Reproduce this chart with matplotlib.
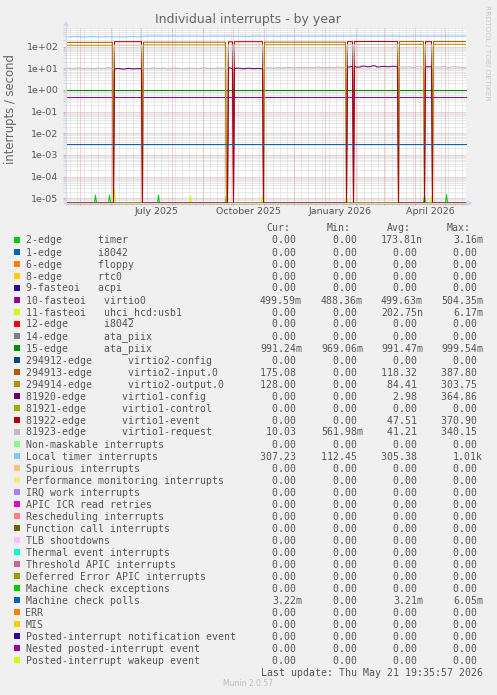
import numpy as np
import matplotlib
matplotlib.use("Agg")
import matplotlib.pyplot as plt
import matplotlib.dates as mdates
from matplotlib.lines import Line2D
from matplotlib.patches import Polygon, Rectangle
from matplotlib.ticker import FuncFormatter, LogLocator, NullFormatter

W, H = 497, 695
# plot box in pixels, measured from the top-left corner of the image
PL, PR, PT, PB = 66, 466, 28, 203

AXIS = "#CFD6F8"
FONT = "#555555"
MGRID = "#E8A4A4"
GRID = "#D4D4D4"

# time range of the "by year" graph (400 days, one day per pixel)
end_time = np.datetime64("2026-05-21T19:35:57")
n_days = 400
start_time = end_time - np.timedelta64(n_days, "D")

# log scale range
y_lo, y_hi = 10 ** -5.217, 10 ** 2.862

# virtio devices swap between two states over the year:
# A = virtio1 up, B = virtio2 up, Z = everything dropped to 0
seg_start = [0, 47, 48, 76, 77, 160, 162, 167, 168, 197, 198, 280, 281, 287, 288, 332, 333, 358, 359, 366, 367]
seg_mode = "BZAZBZAZAZBZAZAZBZAZB"

event_a = [170, 168, 170, 170, 172, 170]       # 81922 virtio1-event, per A segment
request_a = [118, 120, 122, 124, 126, 122]     # 81923 virtio1-request, per A segment
input_b = [158, 160, 162, 172, 172]            # 294913 virtio2-input.0, per B segment
output_b = [116, 121, 123, 128, 128]           # 294914 virtio2-output.0, per B segment

# 5-day samples
local_timer = [282, 290, 285, 278, 288, 292, 280, 286, 290, 284, 288, 280, 292, 287, 283,
               305, 310, 308, 312, 306, 309, 315, 304, 310, 307, 312, 308, 300, 306, 311,
               309, 305, 312, 307, 310, 304, 296, 308, 312, 306, 310, 308, 305, 311, 309,
               306, 312, 307, 310, 305, 309, 313, 306, 308, 311, 307, 304, 310, 312, 308,
               306, 311, 309, 305, 310, 312, 307, 309, 306, 311, 308, 310, 305, 309, 312,
               307, 310, 308, 306, 309]
request_b = [10.2, 9.6, 10.4, 9.8, 10.1, 9.5, 10.3, 9.9, 10.6, 9.7, 10.2, 9.8, 10.4, 9.6, 10.0,
             10.3, 9.8, 10.5, 9.9, 10.2, 9.6, 10.4, 10.0, 9.7, 10.3, 10.1, 9.8, 10.6, 10.0, 9.9,
             10.4, 10.2, 9.8, 10.5, 10.1, 9.9, 10.3, 10.7, 10.2, 10.0, 10.6, 10.3, 10.8, 10.4, 10.9,
             10.5, 11.0, 10.6, 11.2, 10.8, 11.3, 10.9, 11.1, 10.7, 11.4, 11.0, 11.6, 11.2, 11.5, 11.1,
             11.8, 11.3, 12.0, 11.5, 11.7, 11.2, 11.9, 11.4, 11.6, 11.1, 11.8, 11.3, 12.1, 11.6, 11.4,
             11.9, 11.2, 11.7, 11.5, 11.0]
config_a = [10.0, 10.0, 10.0, 10.0, 10.0, 10.0, 10.0, 10.0, 10.0, 9.4,
            9.8, 9.3, 9.9, 9.5, 9.7, 9.4, 10.0, 10.0, 10.0, 10.0,
            10.0, 10.0, 10.0, 10.0, 10.0, 10.0, 10.0, 10.0, 10.0, 10.0,
            10.0, 10.0, 10.4, 9.8, 10.2, 9.6, 10.1, 9.7, 9.9, 9.5,
            10.0, 10.0, 10.0, 10.0, 10.0, 10.0, 10.0, 10.0, 10.0, 10.0,
            10.0, 10.0, 10.0, 10.0, 10.0, 10.0, 11.6, 12.2, 11.4, 12.6,
            11.8, 12.9, 11.7, 12.3, 11.9, 12.4, 11.6, 12.0, 12.0, 12.0,
            12.0, 12.3, 11.8, 12.1, 12.0, 12.0, 12.0, 12.0, 12.0, 12.0]

# short spikes near the bottom
timer_spike_day = [29, 43, 92, 160, 358, 380]
timer_spike_val = [1.4e-5, 1.4e-5, 1.4e-5, 1.4e-5, 1.4e-5, 1.5e-5]
usb_spike_day = [48, 124, 196, 280, 365]
usb_spike_val = [2.4e-5, 1.3e-5, 1.2e-5, 1.2e-5, 1.2e-5]

ata_piix_rate = 0.991
virtio0_rate = 0.4996
mc_poll_rate = 0.00322

names = [
    "2-edge      timer",
    "1-edge      i8042",
    "6-edge      floppy",
    "8-edge      rtc0",
    "9-fasteoi   acpi",
    "10-fasteoi   virtio0",
    "11-fasteoi   uhci_hcd:usb1",
    "12-edge      i8042",
    "14-edge      ata_piix",
    "15-edge      ata_piix",
    "294912-edge      virtio2-config",
    "294913-edge      virtio2-input.0",
    "294914-edge      virtio2-output.0",
    "81920-edge      virtio1-config",
    "81921-edge      virtio1-control",
    "81922-edge      virtio1-event",
    "81923-edge      virtio1-request",
    "Non-maskable interrupts",
    "Local timer interrupts",
    "Spurious interrupts",
    "Performance monitoring interrupts",
    "IRQ work interrupts",
    "APIC ICR read retries",
    "Rescheduling interrupts",
    "Function call interrupts",
    "TLB shootdowns",
    "Thermal event interrupts",
    "Threshold APIC interrupts",
    "Deferred Error APIC interrupts",
    "Machine check exceptions",
    "Machine check polls",
    "ERR",
    "MIS",
    "Posted-interrupt notification event",
    "Nested posted-interrupt event",
    "Posted-interrupt wakeup event",
]
colors = [
    "#00CC00", "#0066B3", "#FF8000", "#FFCC00", "#330099", "#990099", "#CCFF00",
    "#FF0000", "#808080", "#008F00", "#00487D", "#B35A00", "#B38F00", "#6B006B",
    "#8FB300", "#B30000", "#BEBEBE", "#80FF80", "#80C9FF", "#FFC080", "#FFE680",
    "#AA80FF", "#EE00CC", "#FF8080", "#666600", "#FFBFFF", "#00FFCC", "#CC6699",
    "#999900", "#00CC00", "#0066B3", "#FF8000", "#FFCC00", "#330099", "#990099",
    "#CCFF00",
]
z = "0.00"
cur = [z, z, z, z, z, "499.59m", z, z, z, "991.24m", z, "175.08", "128.00", z, z, z, "10.03",
       z, "307.23", z, z, z, z, z, z, z, z, z, z, z, "3.22m", z, z, z, z, z]
vmin = [z, z, z, z, z, "488.36m", z, z, z, "969.06m", z, z, z, z, z, z, "561.98m",
        z, "112.45", z, z, z, z, z, z, z, z, z, z, z, z, z, z, z, z, z]
vavg = ["173.81n", z, z, z, z, "499.63m", "202.75n", z, z, "991.47m", z, "118.32", "84.41", "2.98", z,
        "47.51", "41.21", z, "305.38", z, z, z, z, z, z, z, z, z, z, z, "3.21m", z, z, z, z, z]
vmax = ["3.16m", z, z, z, z, "504.35m", "6.17m", z, z, "999.54m", z, "387.80", "303.75", "364.86", z,
        "370.90", "340.15", z, "1.01k", z, z, z, z, z, z, z, z, z, z, z, "6.05m", z, z, z, z, z]

# ---- build the daily series ----
day = np.arange(n_days)
t = start_time + (day * 86400 + 43200).astype("timedelta64[s]")

series = [np.zeros(n_days) for _ in names]
event = series[15]
request = series[16]
config = series[13]
inp = series[11]
out = series[12]
request_daily = np.repeat(request_b, 5)
config_daily = np.repeat(config_a, 5)

seg_end = seg_start[1:] + [n_days]
a_i = b_i = 0
for s, e, m in zip(seg_start, seg_end, seg_mode):
    if m == "A":
        event[s:e] = event_a[a_i]
        request[s:e] = request_a[a_i]
        config[s:e] = config_daily[s:e]
        a_i += 1
    elif m == "B":
        inp[s:e] = input_b[b_i]
        out[s:e] = output_b[b_i]
        request[s:e] = request_daily[s:e]
        b_i += 1
    else:
        request[s:e] = request_daily[s:e]

series[18][:] = np.repeat(local_timer, 5)
series[9][:] = ata_piix_rate
series[5][:] = virtio0_rate
series[30][:] = mc_poll_rate
series[0][timer_spike_day] = timer_spike_val
series[6][usb_spike_day] = usb_spike_val

# ---- figure ----
fig = plt.figure(figsize=(W / 100, H / 100), dpi=100, facecolor="#F0F0F0")
ax = fig.add_axes([PL / W, 1 - PB / H, (PR - PL) / W, (PB - PT) / H])
ax.set_facecolor("white")
ax.set_yscale("log")
ax.set_xlim(start_time, end_time)
ax.set_ylim(y_lo, y_hi)

for v, c in zip(series, colors):
    ax.plot(t, np.where(v > 0, v, y_lo), color=c, lw=0.75, zorder=3, clip_on=False)

# horizontal grid
ax.yaxis.set_major_locator(LogLocator(base=10))
ax.yaxis.set_minor_locator(LogLocator(base=10, subs=np.arange(2, 10)))
ax.yaxis.set_major_formatter(FuncFormatter(lambda v, _: f"{v:.0e}"))
ax.yaxis.set_minor_formatter(NullFormatter())
ax.grid(axis="y", which="major", color=MGRID, lw=0.72, ls=(0, (1, 1)))
ax.grid(axis="y", which="minor", color=GRID, lw=0.72, ls=(0, (1, 1)))
ax.tick_params(axis="y", which="major", length=2, width=0.72, color=MGRID, pad=3.4,
               labelsize=6.8, labelcolor=FONT)
ax.tick_params(axis="y", which="minor", length=2, width=0.72, color=GRID)
ax.set_axisbelow(True)

# vertical grid: weeks (minor) and months (major)
d0 = start_time.astype("datetime64[s]").astype(object)
d1 = end_time.astype("datetime64[s]").astype(object)
ext = 2 / (PB - PT)
for v in mdates.WeekdayLocator(byweekday=mdates.MO).tick_values(d0, d1):
    ax.axvline(v, ymin=-ext, ymax=1, color=GRID, lw=0.72, ls=(0, (1, 1)), zorder=0.5, clip_on=False)
for v in mdates.MonthLocator().tick_values(d0, d1):
    if mdates.date2num(d0) < v < mdates.date2num(d1):
        ax.axvline(v, ymin=-ext, ymax=1, color=MGRID, lw=0.72, ls=(0, (1, 1)), zorder=0.6, clip_on=False)

# month labels sit in the middle of the month
ax.xaxis.set_major_locator(mdates.MonthLocator(bymonth=[1, 4, 7, 10], bymonthday=16))
ax.xaxis.set_major_formatter(mdates.DateFormatter("%B %Y"))
ax.xaxis.set_minor_locator(plt.NullLocator())
ax.tick_params(axis="x", length=0, pad=2.9, labelsize=6.8, labelcolor=FONT)

for sp in ax.spines.values():
    sp.set_visible(False)

# axes with arrows
fig.add_artist(Line2D([PL / W, PL / W], [1 - (PB + 2) / H, 1 - 25 / H], color=AXIS, lw=0.75))
fig.add_artist(Line2D([(PL - 2) / W, 468 / W], [1 - PB / H, 1 - PB / H], color=AXIS, lw=0.75, zorder=0.5))
fig.add_artist(Polygon([[(PL - 3) / W, 1 - 26 / H], [(PL + 3) / W, 1 - 26 / H], [PL / W, 1 - 21 / H]],
                       closed=True, color=AXIS, lw=0))
fig.add_artist(Polygon([[467 / W, 1 - (PB - 3) / H], [467 / W, 1 - (PB + 3) / H], [473 / W, 1 - PB / H]],
                       closed=True, color=AXIS, lw=0))

# titles
fig.text(248 / W, 1 - 23 / H, "Individual interrupts - by year", ha="center", va="baseline",
         fontsize=9, color="#666666")
fig.text(10.5 / W, 1 - 109 / H, "interrupts / second", rotation=90, ha="center", va="center",
         fontsize=8.4, color="#666666")
fig.text(487.5 / W, 1 - 53 / H, "RRDTOOL / TOBI OETIKER", rotation=270, ha="center", va="center",
         fontsize=5.4, color="#C8C8C8")

# legend
mono = "DejaVu Sans Mono"
lsize = 7.1
cw = 5.98
col_x = [260, 321, 381, 441]
for x, head in zip(col_x, ["Cur:", "Min:", "Avg:", "Max:"]):
    fig.text((x + cw) / W, 1 - 231 / H, head, family=mono, fontsize=lsize, color=FONT, va="baseline")

for i, name in enumerate(names):
    base = 243.5 + 12 * i
    fig.add_artist(Rectangle((14 / W, 1 - (base - 0.2) / H), 6 / W, 6 / H, color=colors[i], lw=0))
    fig.text(25.5 / W, 1 - base / H, name, family=mono, fontsize=lsize, color=FONT, va="baseline")
    for x, s in zip(col_x, [cur[i], vmin[i], vavg[i], vmax[i]]):
        cell = s if s[-1].isalpha() else s + " "
        fig.text((x + (7 - len(cell)) * cw) / W, 1 - base / H, cell, family=mono, fontsize=lsize,
                 color=FONT, va="baseline")

fig.text(261 / W, 1 - 675.5 / H, "Last update: Thu May 21 19:35:57 2026", family=mono,
         fontsize=lsize, color=FONT, va="baseline")
fig.text(248 / W, 1 - 684 / H, "Munin 2.0.57", ha="center", va="center", fontsize=5.5, color="#BDBDBD")

fig.savefig("out.png", dpi=100, facecolor=fig.get_facecolor())
